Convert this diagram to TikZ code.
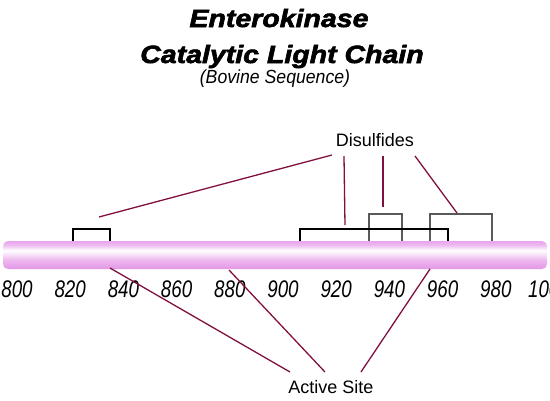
\documentclass[tikz,border=0pt]{standalone}
\usepackage{fontspec}
\setmainfont{Liberation Sans}
\newfontfamily\heavyfont[BoldItalicFeatures={FakeBold=2.2}]{Liberation Sans}
\definecolor{linkred}{RGB}{128,16,64}
\definecolor{boxgray}{RGB}{90,90,90}
\definecolor{pinkA}{RGB}{226,150,230}
\definecolor{pinkB}{RGB}{238,186,240}
\definecolor{pinkC}{RGB}{232,165,236}
\pgfdeclareverticalshading{barshade}{100bp}{
  color(0bp)=(pinkA); color(25bp)=(pinkA); color(42bp)=(pinkB);
  color(58bp)=(white); color(68bp)=(pinkB); color(75bp)=(pinkC); color(100bp)=(pinkC)}
\tikzset{
  link/.style={draw=linkred, line width=1.3pt},
  bondbox/.style={draw=black, line width=1.1pt},
  bondboxg/.style={draw=boxgray, line width=1.1pt},
  ticklbl/.style={anchor=base, inner sep=0pt, font=\fontsize{24}{27}\selectfont\itshape},
  lbl/.style={anchor=base, inner sep=0pt, font=\fontsize{18}{21}\selectfont},
  titlelbl/.style={anchor=base, inner sep=0pt, font=\fontsize{25}{30}\selectfont\heavyfont\bfseries\itshape}
}
\begin{document}
\begin{tikzpicture}[x=1pt,y=-1pt]
\useasboundingbox (0,0) rectangle (550,400);
\clip (0,0) rectangle (550,400);
% titles
\node[titlelbl] (title1) at (279,27) {\scalebox{1.14}[1]{Enterokinase}};
\node[titlelbl] (title2) at (282,63) {\scalebox{1.14}[1]{Catalytic Light Chain}};
\node[anchor=base, inner sep=0pt, font=\fontsize{19}{23}\selectfont\itshape] (sub) at (275,83) {\scalebox{0.93}[1]{(Bovine Sequence)}};
% bar
\shade[shading=barshade, rounded corners=5pt] (3,241) rectangle (547,269);
\node[inner sep=0pt, minimum width=544pt, minimum height=28pt] (bar) at (275,255) {};
% tick labels
\foreach \i in {0,...,10}{
  \pgfmathtruncatemacro{\v}{800+20*\i}
  \node[ticklbl] (tk\i) at ({17+53.2*\i},297) {\scalebox{0.78}[1]{\v}};
}
% disulfide boxes
\draw[bondboxg] (369,241) -- (369,214) -- (402,214) -- (402,241);
\draw[bondboxg] (430,241) -- (430,214) -- (492,214) -- (492,241);
\draw[bondbox] (73,241) -- (73,229) -- (110,229) -- (110,241);
\draw[bondbox] (300,241) -- (300,229) -- (448,229) -- (448,241);
% labels
\node[lbl] (dis) at (375,146) {Disulfides};
\node[lbl] (act) at (331,393) {Active Site};
% connector end points
\coordinate (dA0) at (332,155); \coordinate (dA1) at (99,217);
\coordinate (dB0) at (344,156); \coordinate (dB1) at (345,225);
\coordinate (dC0) at (383,156); \coordinate (dC1) at (383,207);
\coordinate (dD0) at (415,156); \coordinate (dD1) at (457,213);
\coordinate (a10) at (290,372); \coordinate (a11) at (110,268);
\coordinate (a20) at (325,372); \coordinate (a21) at (229,270);
\coordinate (a30) at (361,372); \coordinate (a31) at (430,269);
\draw[link] (dA0) -- (dA1);
\draw[link] (dB0) -- (dB1);
\draw[link] (dC0) -- (dC1);
\draw[link] (dD0) -- (dD1);
\draw[link] (a10) -- (a11);
\draw[link] (a20) -- (a21);
\draw[link] (a30) -- (a31);
\end{tikzpicture}
\end{document}
